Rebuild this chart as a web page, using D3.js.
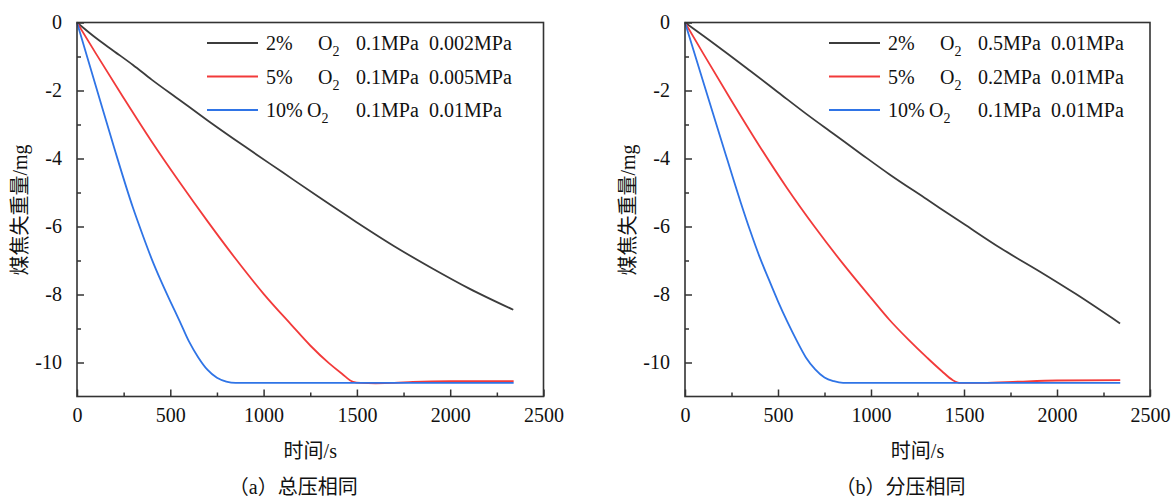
<!DOCTYPE html>
<html>
<head>
<meta charset="utf-8">
<script src="https://cdn.jsdelivr.net/npm/d3@7/dist/d3.min.js"></script>
<style>
  html, body { margin: 0; padding: 0; background: #fff; }
  svg text { font-family: "Liberation Serif", "Times New Roman", Tinos, "DejaVu Serif", "Noto Sans CJK SC", serif; fill: #111; }
  svg tspan.cjk { font-family: "Noto Sans CJK SC", sans-serif; }
</style>
</head>
<body>
<svg id="chart" width="1175" height="499"></svg>
<script>
// ---- data (time in s, mass loss in mg) ----
const leftBlackT = [0, 100, 200, 300, 400, 550, 700, 900, 1100, 1300, 1500, 1700, 1900, 2100, 2338];
const leftBlackV = [0, -0.45, -0.85, -1.25, -1.68, -2.28, -2.88, -3.65, -4.4, -5.15, -5.88, -6.58, -7.22, -7.82, -8.45];

const leftRedT = [0, 100, 250, 400, 550, 700, 850, 1000, 1150, 1250, 1350, 1420, 1480, 1520, 1600, 1700, 1800, 2000, 2200, 2340];
const leftRedV = [0, -0.9, -2.22, -3.5, -4.7, -5.85, -6.95, -7.98, -8.9, -9.5, -10.02, -10.33, -10.57, -10.6, -10.61, -10.6, -10.57, -10.55, -10.55, -10.55];

const leftBlueT = [0, 100, 200, 300, 350, 400, 450, 500, 550, 600, 650, 700, 750, 800, 850, 1200, 1600, 2000, 2340];
const leftBlueV = [0, -1.85, -3.7, -5.45, -6.22, -6.95, -7.6, -8.2, -8.78, -9.38, -9.85, -10.22, -10.45, -10.56, -10.6, -10.6, -10.6, -10.6, -10.6];

const rightBlackT = [0, 100, 200, 350, 500, 650, 800, 950, 1100, 1300, 1500, 1700, 1900, 2100, 2339];
const rightBlackV = [0, -0.4, -0.8, -1.42, -2.05, -2.68, -3.28, -3.88, -4.47, -5.2, -5.93, -6.65, -7.3, -7.98, -8.85];

const rightRedT = [0, 100, 250, 400, 550, 700, 850, 1000, 1100, 1200, 1300, 1380, 1440, 1480, 1600, 1800, 2000, 2340];
const rightRedV = [0, -0.93, -2.3, -3.63, -4.88, -6.03, -7.1, -8.1, -8.75, -9.32, -9.85, -10.25, -10.52, -10.6, -10.6, -10.56, -10.53, -10.52];

const rightBlueT = [0, 100, 200, 300, 350, 400, 450, 500, 550, 600, 650, 700, 750, 800, 850, 1200, 1600, 2000, 2340];
const rightBlueV = [0, -1.78, -3.55, -5.3, -6.12, -6.88, -7.55, -8.2, -8.8, -9.35, -9.85, -10.2, -10.44, -10.55, -10.6, -10.6, -10.6, -10.6, -10.6];

const xTicks = [0, 500, 1000, 1500, 2000, 2500];
const xMinor = [250, 750, 1250, 1750, 2250];
const yTicks = [0, -2, -4, -6, -8, -10];
const yMinor = [-1, -3, -5, -7, -9];

const leftLegend = [
  ["2%", "0.1MPa", "0.002MPa"],
  ["5%", "0.1MPa", "0.005MPa"],
  ["10%", "0.1MPa", "0.01MPa"]
];
const rightLegend = [
  ["2%", "0.5MPa", "0.01MPa"],
  ["5%", "0.2MPa", "0.01MPa"],
  ["10%", "0.1MPa", "0.01MPa"]
];

const COLORS = ["#3c3c3c", "#f23a3a", "#2f74e6"];
const SERIF = '"Liberation Serif", "Times New Roman", Tinos, "DejaVu Serif", serif';

const svg = d3.select("#chart");
svg.append("rect").attr("width", 1175).attr("height", 499).attr("fill", "#fff");

function zip(ts, vs) {
  return ts.map((t, i) => ({ t, v: vs[i] }));
}

// text with a CJK part and a Latin part
function mixedText(sel, cjk, latin) {
  sel.append("tspan").attr("class", "cjk").text(cjk);
  sel.append("tspan").style("font-family", SERIF).text(latin);
}

function drawPanel(cfg) {
  const x = d3.scaleLinear().domain([0, 2500]).range([cfg.left, cfg.right]);
  const y = d3.scaleLinear().domain([-11, 0]).range([396.5, 22.5]);
  const g = svg.append("g");

  // series
  const line = d3.line().x(d => x(d.t)).y(d => y(d.v)).curve(d3.curveMonotoneX);
  cfg.series.forEach((s, i) => {
    g.append("path")
      .datum(s)
      .attr("fill", "none")
      .attr("stroke", COLORS[i])
      .attr("stroke-width", 1.8)
      .attr("d", line);
  });

  // frame
  g.append("rect")
    .attr("x", x(0)).attr("y", y(0))
    .attr("width", x(2500) - x(0)).attr("height", y(-11) - y(0))
    .attr("fill", "none").attr("stroke", "#333").attr("stroke-width", 1.6);

  // ticks, inward
  const fmt = d => String(d);
  const bottom = g.append("g").attr("transform", `translate(0,${y(-11)})`)
    .call(d3.axisBottom(x).tickValues(xTicks).tickFormat(fmt).tickSizeInner(-7).tickSizeOuter(0).tickPadding(16));
  bottom.append("g").call(d3.axisBottom(x).tickValues(xMinor).tickSizeInner(-4).tickSizeOuter(0).tickFormat(""));
  const leftAx = g.append("g").attr("transform", `translate(${x(0)},0)`)
    .call(d3.axisLeft(y).tickValues(yTicks).tickFormat(fmt).tickSizeInner(-7).tickSizeOuter(0).tickPadding(15));
  leftAx.append("g").call(d3.axisLeft(y).tickValues(yMinor).tickSizeInner(-4).tickSizeOuter(0).tickFormat(""));

  g.selectAll(".domain").remove();
  g.selectAll("g[font-family]").attr("font-family", SERIF);
  g.selectAll(".tick line").attr("stroke", "#333").attr("stroke-width", 1.5);
  g.selectAll(".tick text")
    .style("font-family", SERIF).attr("font-size", 20).attr("fill", "#111");
  bottom.selectAll(".tick text").attr("dy", "0.71em").attr("y", 11);

  // axis titles
  const cx = (x(0) + x(2500)) / 2;
  g.append("text").attr("x", cx).attr("y", 458)
    .attr("text-anchor", "middle").attr("font-size", 20)
    .call(mixedText, "时间", "/s");
  g.append("text")
    .attr("transform", `translate(${cfg.left - 50},210) rotate(-90)`)
    .attr("text-anchor", "middle").attr("font-size", 20)
    .call(mixedText, "煤焦失重量", "/mg");
  g.append("text").attr("x", cx - 17).attr("y", 494)
    .attr("text-anchor", "middle").attr("font-size", 20)
    .call(sel => {
      sel.append("tspan").attr("class", "cjk").text("（");
      sel.append("tspan").style("font-family", SERIF).text(cfg.letter);
      sel.append("tspan").attr("class", "cjk").text("）" + cfg.caption);
    });

  // legend
  cfg.legend.forEach((row, i) => {
    const ly = 43 + i * 33.5;
    g.append("line")
      .attr("x1", cfg.legX).attr("x2", cfg.legX + 51)
      .attr("y1", ly).attr("y2", ly)
      .attr("stroke", COLORS[i]).attr("stroke-width", 1.8);
    const base = ly + 7;
    g.append("text").attr("x", cfg.legX + 59).attr("y", base).attr("font-size", 20).text(row[0]);
    const ox = cfg.legX + (i === 2 ? 100 : 111);
    const o = g.append("text").attr("x", ox).attr("y", base).attr("font-size", 20);
    o.append("tspan").text("O");
    o.append("tspan").attr("font-size", 14).attr("dy", 6).text("2");
    g.append("text").attr("x", cfg.legX + 149).attr("y", base).attr("font-size", 20).text(row[1]);
    g.append("text").attr("x", cfg.legX + 222).attr("y", base).attr("font-size", 20).text(row[2]);
  });
}

drawPanel({
  left: 77, right: 543.5, legX: 207, letter: "a", caption: "总压相同", legend: leftLegend,
  series: [zip(leftBlackT, leftBlackV), zip(leftRedT, leftRedV), zip(leftBlueT, leftBlueV)]
});
drawPanel({
  left: 685, right: 1150, legX: 829, letter: "b", caption: "分压相同", legend: rightLegend,
  series: [zip(rightBlackT, rightBlackV), zip(rightRedT, rightRedV), zip(rightBlueT, rightBlueV)]
});
</script>
</body>
</html>
